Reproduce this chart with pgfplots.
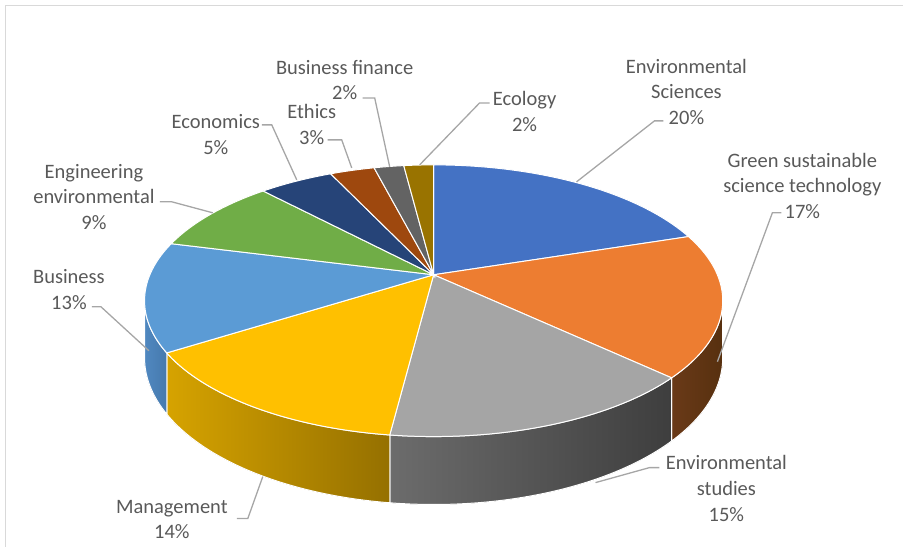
\documentclass[border=0pt]{standalone}
\usepackage{pgfplots}
\usepackage{pgfplotstable}
\pgfplotsset{compat=1.18}
\usepackage{fontspec}
\setmainfont{Carlito}

% slice tops
\definecolor{top0}{HTML}{4472C4}
\definecolor{top1}{HTML}{ED7D31}
\definecolor{top2}{HTML}{A5A5A5}
\definecolor{top3}{HTML}{FFC000}
\definecolor{top4}{HTML}{5B9BD5}
\definecolor{top5}{HTML}{70AD47}
\definecolor{top6}{HTML}{264478}
\definecolor{top7}{HTML}{9E480E}
\definecolor{top8}{HTML}{636363}
\definecolor{top9}{HTML}{997300}
% slice walls (left / right shade)
\definecolor{wallL1}{HTML}{6A3A18}
\definecolor{wallR1}{HTML}{57300F}
\definecolor{wallL2}{HTML}{6C6C6C}
\definecolor{wallR2}{HTML}{3E3E3E}
\definecolor{wallL3}{HTML}{D6A300}
\definecolor{wallR3}{HTML}{957000}
\definecolor{wallL4}{HTML}{5088C0}
\definecolor{wallR4}{HTML}{4679AD}
\definecolor{lbltext}{HTML}{595959}
\definecolor{leader}{HTML}{A6A6A6}
\definecolor{frame}{HTML}{D9D9D9}

\newcommand\lbl{\fontsize{20.5}{25.8}\selectfont}

% share of publications by subject area (%)
\pgfplotstableread{
subject pct
EnvironmentalSciences 20
GreenSustainableScienceTechnology 17
EnvironmentalStudies 15
Management 14
Business 13
EngineeringEnvironmental 9
Economics 5
Ethics 3
BusinessFinance 2
Ecology 2
}\pietab
\pgfplotstablecreatecol[expr accum={\pgfmathaccuma+\thisrow{pct}}{0}]{cum}\pietab
\pgfplotstablecreatecol[expr={90-3.6*\thisrow{cum}}]{tend}\pietab
\pgfplotstablecreatecol[expr={90-3.6*(\thisrow{cum}-\thisrow{pct})}]{tstart}\pietab

\begin{document}
\begin{tikzpicture}[
  declare function={
    px(\t)=434+284*cos(\t)/(1+0.191*sin(\t));
    py(\t)=275-131*sin(\t)/(1+0.191*sin(\t));
    dz(\t)=55/(1+0.191*sin(\t));
  }]
\begin{axis}[
  scale only axis, width=904pt, height=547pt,
  xmin=0, xmax=904, ymin=0, ymax=547, y dir=reverse,
  hide axis, clip=false]
\path (axis cs:0,0) rectangle (axis cs:904,547);
\draw[frame, line width=1.5pt] (axis cs:5.5,547) -- (axis cs:5.5,5.5) -- (axis cs:904,5.5);

% side walls of the front slices
\pgfplotsinvokeforeach{1,2,3,4}{%
  \pgfplotstablegetelem{#1}{tstart}\of\pietab
  \pgfmathsetmacro\hi{min(\pgfplotsretval,-11)}%
  \pgfplotstablegetelem{#1}{tend}\of\pietab
  \pgfmathsetmacro\lo{max(\pgfplotsretval,-169)}%
  \edef\wall{\noexpand\fill[left color=wallL#1, right color=wallR#1, draw=white, line width=1pt]
    plot[domain=\lo:\hi, samples=50, variable=\noexpand\t] ({px(\noexpand\t)},{py(\noexpand\t)})
    -- plot[domain=\hi:\lo, samples=50, variable=\noexpand\t] ({px(\noexpand\t)},{py(\noexpand\t)+dz(\noexpand\t)})
    -- cycle;}%
  \wall
}

% top faces
\pgfplotsinvokeforeach{0,...,9}{%
  \pgfplotstablegetelem{#1}{tstart}\of\pietab \let\ts\pgfplotsretval
  \pgfplotstablegetelem{#1}{tend}\of\pietab \let\te\pgfplotsretval
  \edef\slice{\noexpand\addplot[fill=top#1, draw=white, line width=1pt, domain=\te:\ts, samples=60, variable=\noexpand\t]
    ({px(\noexpand\t)},{py(\noexpand\t)}) -- (axis cs:434,275) -- cycle;}%
  \slice
}

% leader lines
\begin{scope}[leader, line width=1.3pt]
\draw (axis cs:664,121) -- (axis cs:655,121) -- (axis cs:577,182);
\draw (axis cs:782,213) -- (axis cs:773,213) -- (axis cs:718,362);
\draw (axis cs:660,468) -- (axis cs:650,468) -- (axis cs:596,483);
\draw (axis cs:237,519) -- (axis cs:248,519) -- (axis cs:263,477);
\draw (axis cs:92,307) -- (axis cs:101,307) -- (axis cs:149,351);
\draw (axis cs:160,202) -- (axis cs:172,202) -- (axis cs:213,213);
\draw (axis cs:262,125) -- (axis cs:272,125) -- (axis cs:297,180);
\draw (axis cs:328,140) -- (axis cs:342,140) -- (axis cs:352,168);
\draw (axis cs:363,98) -- (axis cs:375,98) -- (axis cs:390,167);
\draw (axis cs:490,103) -- (axis cs:480,103) -- (axis cs:420,165);
\end{scope}

% data labels
\begin{scope}[every node/.style={font=\lbl, text=lbltext, align=center, inner sep=0pt}]
\node at (axis cs:687,92) {Environmental\\Sciences\\20\%};
\node at (axis cs:803,186) {Green sustainable\\science technology\\17\%};
\node at (axis cs:727,489) {Environmental\\studies\\15\%};
\node at (axis cs:172,520) {Management\\14\%};
\node at (axis cs:69,290) {Business\\13\%};
\node at (axis cs:94,197) {Engineering\\environmental\\9\%};
\node at (axis cs:216,134.5) {Economics\\5\%};
\node at (axis cs:312,124.5) {Ethics\\3\%};
\node at (axis cs:345,80) {Business finance\\2\%};
\node at (axis cs:525,111.5) {Ecology\\2\%};
\end{scope}
\end{axis}
\end{tikzpicture}
\end{document}
